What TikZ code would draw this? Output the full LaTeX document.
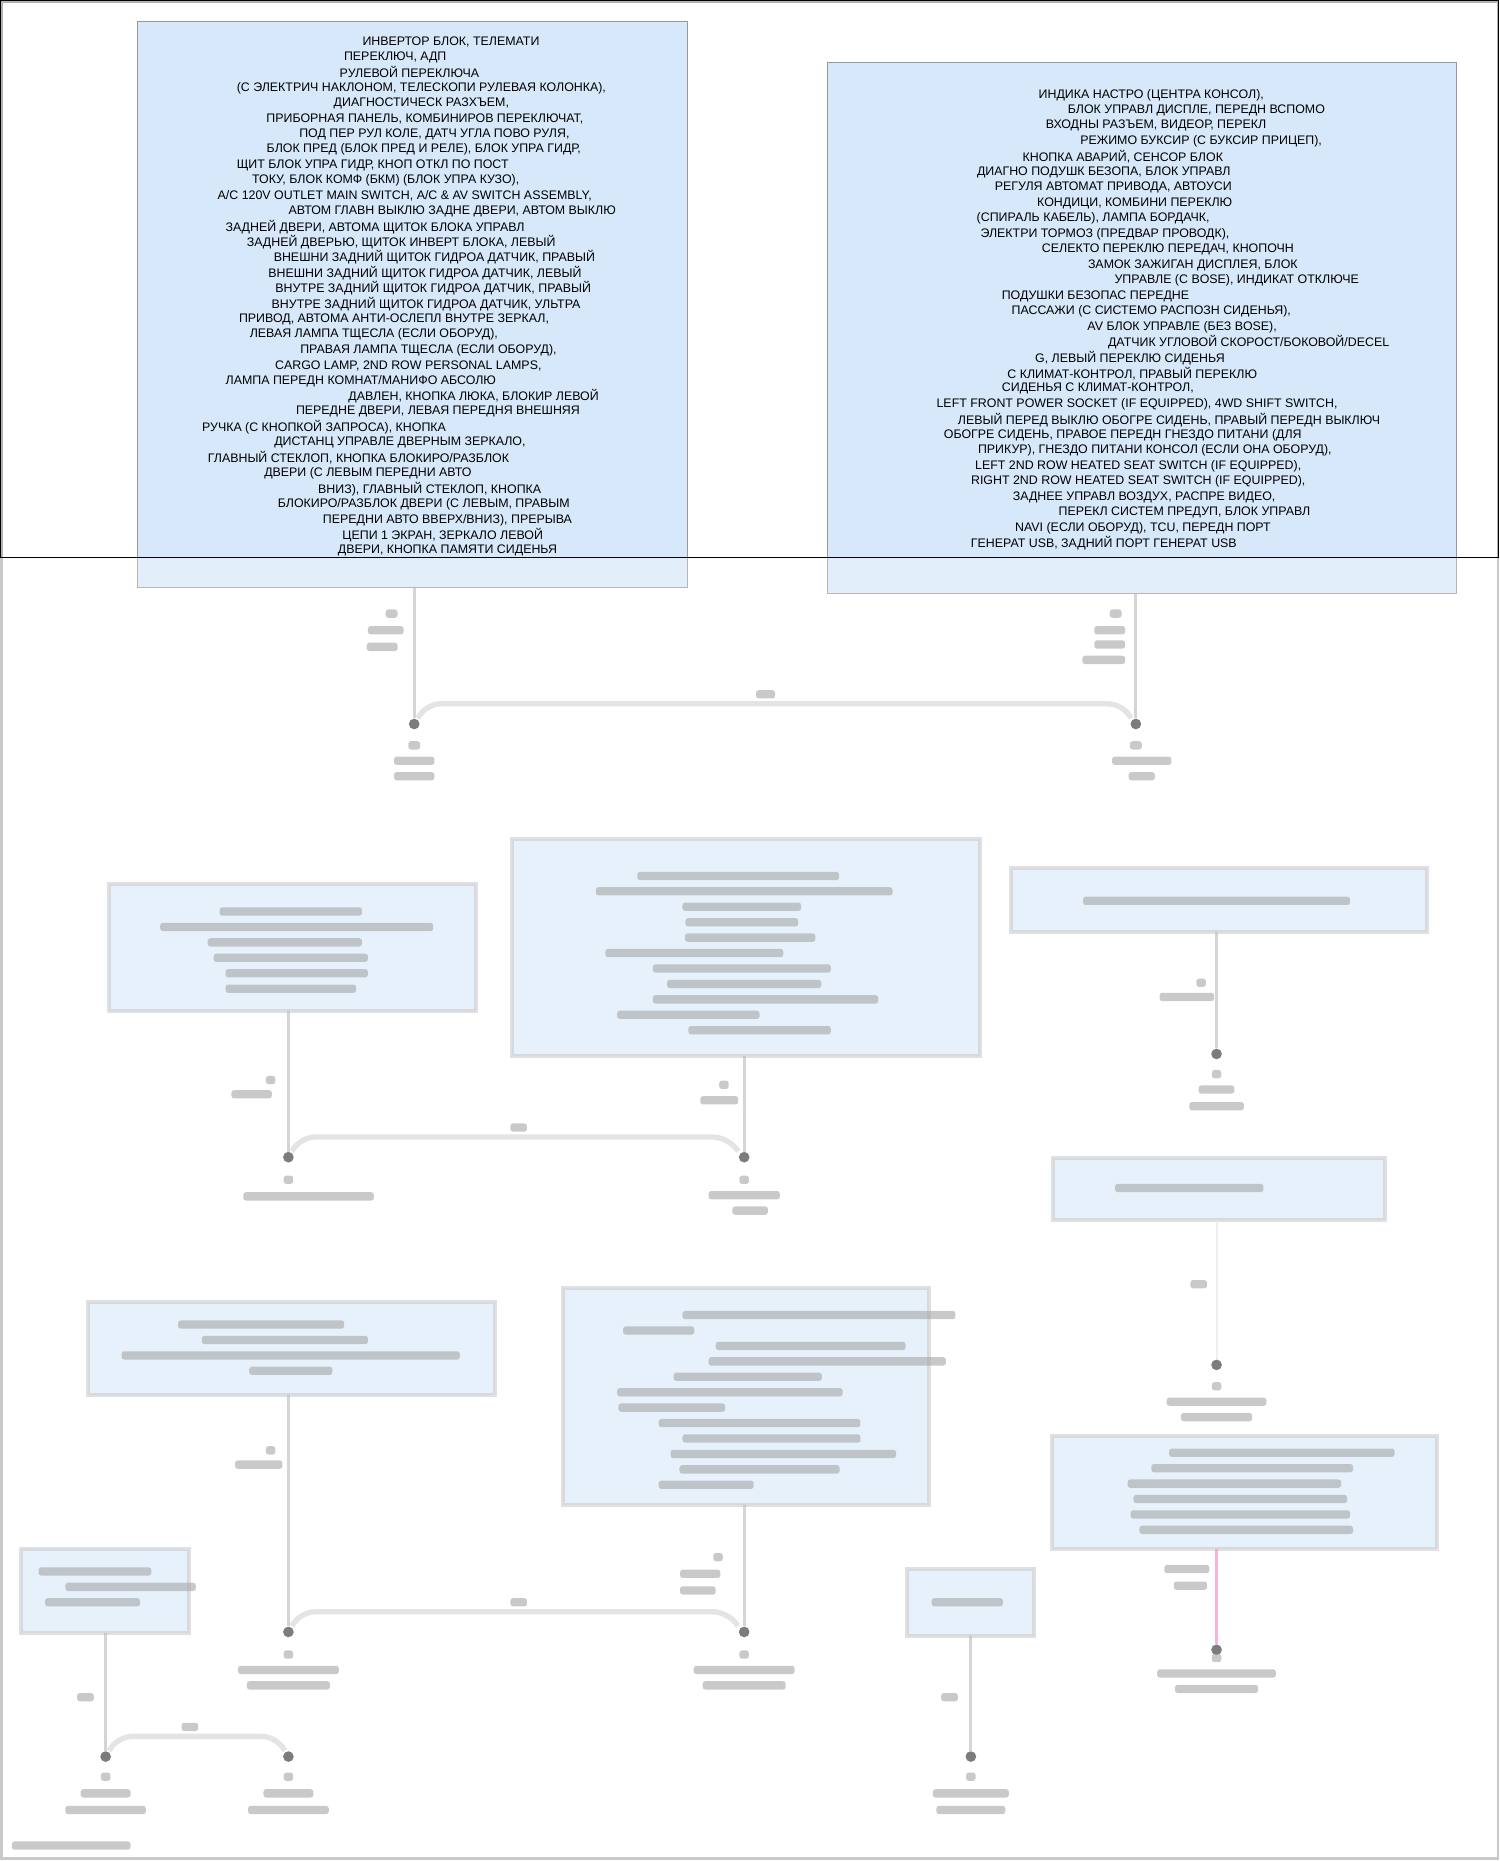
\documentclass[tikz,border=0pt]{standalone}
\usepackage{fontspec}
\setmainfont{Liberation Sans}
\definecolor{bfill}{HTML}{D6E8F9}
\begin{document}
\begin{tikzpicture}[x=0.8903pt,y=-0.8903pt,
  box/.style={draw=gray!80,fill=bfill,line width=0.8pt},
  bbox/.style={draw=gray!40,fill=bfill,line width=3pt},
  wire/.style={draw=gray!55,line width=2.2pt},
  bus/.style={draw=gray!35,line width=4pt,rounded corners=10pt},
  dot/.style={circle,fill=black!85,inner sep=0pt,minimum size=8pt},
  tl/.style={inner sep=0pt,font=\fontsize{9.3}{10}\selectfont,anchor=center}]
\useasboundingbox (0,0) rectangle (1263,1568);
\fill[white] (0,0) rectangle (1263,1568);
\draw[gray!60,line width=2pt] (1,1) rectangle (1262,1566);
\newcommand{\bl}[3]{\fill[gray!70,rounded corners=2pt] (#1,#2) ++(-#3/2,-3.5) rectangle ++(#3,7);}
% ===== top boxes =====
\draw[box] (116,18) rectangle (579,495);
\draw[box] (697,53) rectangle (1227,500);
\coordinate (b1) at (349,495);
\coordinate (b2) at (957,500);
\foreach \cx/\t [count=\i] in {
380/{ИНВЕРТОР БЛОК, ТЕЛЕМАТИ},
333/{ПЕРЕКЛЮЧ, АДП},
345/{РУЛЕВОЙ ПЕРЕКЛЮЧА},
355/{(С ЭЛЕКТРИЧ НАКЛОНОМ, ТЕЛЕСКОПИ РУЛЕВАЯ КОЛОНКА),},
355/{ДИАГНОСТИЧЕСК РАЗХЪЕМ,},
358/{ПРИБОРНАЯ ПАНЕЛЬ, КОМБИНИРОВ ПЕРЕКЛЮЧАТ,},
366/{ПОД ПЕР РУЛ КОЛЕ, ДАТЧ УГЛА ПОВО РУЛЯ,},
357/{БЛОК ПРЕД (БЛОК ПРЕД И РЕЛЕ), БЛОК УПРА ГИДР,},
314/{ЩИТ БЛОК УПРА ГИДР, КНОП ОТКЛ ПО ПОСТ},
325/{ТОКУ, БЛОК КОМФ (БКМ) (БЛОК УПРА КУЗО),},
341/{A/C 120V OUTLET MAIN SWITCH, A/C \& AV SWITCH ASSEMBLY,},
381/{АВТОМ ГЛАВН ВЫКЛЮ ЗАДНЕ ДВЕРИ, АВТОМ ВЫКЛЮ},
316/{ЗАДНЕЙ ДВЕРИ, АВТОМА ЩИТОК БЛОКА УПРАВЛ},
338/{ЗАДНЕЙ ДВЕРЬЮ, ЩИТОК ИНВЕРТ БЛОКА, ЛЕВЫЙ},
366/{ВНЕШНИ ЗАДНИЙ ЩИТОК ГИДРОА ДАТЧИК, ПРАВЫЙ},
358/{ВНЕШНИ ЗАДНИЙ ЩИТОК ГИДРОА ДАТЧИК, ЛЕВЫЙ},
365/{ВНУТРЕ ЗАДНИЙ ЩИТОК ГИДРОА ДАТЧИК, ПРАВЫЙ},
359/{ВНУТРЕ ЗАДНИЙ ЩИТОК ГИДРОА ДАТЧИК, УЛЬТРА},
332/{ПРИВОД, АВТОМА АНТИ-ОСЛЕПЛ ВНУТРЕ ЗЕРКАЛ,},
315/{ЛЕВАЯ ЛАМПА ТЩЕСЛА (ЕСЛИ ОБОРУД),},
361/{ПРАВАЯ ЛАМПА ТЩЕСЛА (ЕСЛИ ОБОРУД),},
344/{CARGO LAMP, 2ND ROW PERSONAL LAMPS,},
304/{ЛАМПА ПЕРЕДН КОМНАТ/МАНИФО АБСОЛЮ},
399/{ДАВЛЕН, КНОПКА ЛЮКА, БЛОКИР ЛЕВОЙ},
369/{ПЕРЕДНЕ ДВЕРИ, ЛЕВАЯ ПЕРЕДНЯ ВНЕШНЯЯ},
273/{РУЧКА (С КНОПКОЙ ЗАПРОСА), КНОПКА},
337/{ДИСТАНЦ УПРАВЛЕ ДВЕРНЫМ ЗЕРКАЛО,},
302/{ГЛАВНЫЙ СТЕКЛОП, КНОПКА БЛОКИРО/РАЗБЛОК},
310/{ДВЕРИ (С ЛЕВЫМ ПЕРЕДНИ АВТО},
362/{ВНИЗ), ГЛАВНЫЙ СТЕКЛОП, КНОПКА},
357/{БЛОКИРО/РАЗБЛОК ДВЕРИ (С ЛЕВЫМ, ПРАВЫМ},
377/{ПЕРЕДНИ АВТО ВВЕРХ/ВНИЗ), ПРЕРЫВА},
373/{ЦЕПИ 1 ЭКРАН, ЗЕРКАЛО ЛЕВОЙ},
377/{ДВЕРИ, КНОПКА ПАМЯТИ СИДЕНЬЯ}}
  {\node[tl] at (\cx,{35+13*(\i-1)}) {\t};}
\foreach \cx/\t [count=\i] in {
970/{ИНДИКА НАСТРО (ЦЕНТРА КОНСОЛ),},
1008/{БЛОК УПРАВЛ ДИСПЛЕ, ПЕРЕДН ВСПОМО},
974/{ВХОДНЫ РАЗЪЕМ, ВИДЕОР, ПЕРЕКЛ},
1012/{РЕЖИМО БУКСИР (С БУКСИР ПРИЦЕП),},
946/{КНОПКА АВАРИЙ, СЕНСОР БЛОК},
930/{ДИАГНО ПОДУШК БЕЗОПА, БЛОК УПРАВЛ},
938/{РЕГУЛЯ АВТОМАТ ПРИВОДА, АВТОУСИ},
956/{КОНДИЦИ, КОМБИНИ ПЕРЕКЛЮ},
921/{(СПИРАЛЬ КАБЕЛЬ), ЛАМПА БОРДАЧК,},
931/{ЭЛЕКТРИ ТОРМОЗ (ПРЕДВАР ПРОВОДК),},
984/{СЕЛЕКТО ПЕРЕКЛЮ ПЕРЕДАЧ, КНОПОЧН},
1005/{ЗАМОК ЗАЖИГАН ДИСПЛЕЯ, БЛОК},
1042/{УПРАВЛЕ (С BOSE), ИНДИКАТ ОТКЛЮЧЕ},
923/{ПОДУШКИ БЕЗОПАС ПЕРЕДНЕ},
970/{ПАССАЖИ (С СИСТЕМО РАСПОЗН СИДЕНЬЯ),},
996/{AV БЛОК УПРАВЛЕ (БЕЗ BOSE),},
1052/{ДАТЧИК УГЛОВОЙ СКОРОСТ/БОКОВОЙ/DECEL},
952/{G, ЛЕВЫЙ ПЕРЕКЛЮ СИДЕНЬЯ},
954/{С КЛИМАТ-КОНТРОЛ, ПРАВЫЙ ПЕРЕКЛЮ},
925/{СИДЕНЬЯ С КЛИМАТ-КОНТРОЛ,},
958/{LEFT FRONT POWER SOCKET (IF EQUIPPED), 4WD SHIFT SWITCH,},
985/{ЛЕВЫЙ ПЕРЕД ВЫКЛЮ ОБОГРЕ СИДЕНЬ, ПРАВЫЙ ПЕРЕДН ВЫКЛЮЧ},
946/{ОБОГРЕ СИДЕНЬ, ПРАВОЕ ПЕРЕДН ГНЕЗДО ПИТАНИ (ДЛЯ},
973/{ПРИКУР), ГНЕЗДО ПИТАНИ КОНСОЛ (ЕСЛИ ОНА ОБОРУД),},
959/{LEFT 2ND ROW HEATED SEAT SWITCH (IF EQUIPPED),},
959/{RIGHT 2ND ROW HEATED SEAT SWITCH (IF EQUIPPED),},
964/{ЗАДНЕЕ УПРАВЛ ВОЗДУХ, РАСПРЕ ВИДЕО,},
998/{ПЕРЕКЛ СИСТЕМ ПРЕДУП, БЛОК УПРАВЛ},
963/{NAVI (ЕСЛИ ОБОРУД), TCU, ПЕРЕДН ПОРТ},
930/{ГЕНЕРАТ USB, ЗАДНИЙ ПОРТ ГЕНЕРАТ USB}}
  {\node[tl] at (\cx,{80+13.03*(\i-1)}) {\t};}
% blur over lower part of top boxes
\fill[white,opacity=0.3] (0,470) rectangle (1263,1568);
\draw[black,line width=0.8pt] (0.4,0.4) rectangle (1262.6,470);
% ===== lower (blurred) part =====
\begin{scope}[opacity=0.6]
\node[dot] (d1) at (349,610) {};
\node[dot] (d2) at (957,610) {};
\draw[wire] (b1) -- (d1);
\draw[wire] (b2) -- (d2);
\draw[bus] (352,605) -- (360,593) -- (945,593) -- (953,605);
\bl{645}{585}{16}
\bl{330}{517}{10}\bl{325}{531}{30}\bl{322}{545}{26}
\bl{940}{517}{10}\bl{935}{531}{26}\bl{935}{543}{26}\bl{930}{556}{36}
\bl{349}{628}{10}\bl{349}{641}{34}\bl{349}{654}{34}
\bl{957}{628}{10}\bl{962}{641}{50}\bl{962}{654}{22}
% row 2
\draw[bbox] (92,745) rectangle (401,852);   \coordinate (bA) at (243,852);
\draw[bbox] (431,707) rectangle (826,890);  \coordinate (bB) at (627,890);
\draw[bbox] (852,731) rectangle (1202,785); \coordinate (bC) at (1025,785);
\foreach \w/\c [count=\i] in {120/245,230/250,130/240,130/245,120/250,110/245}
  {\bl{\c}{{768+13*(\i-1)}}{\w}}
\foreach \w/\c [count=\i] in {170/622,250/627,100/625,95/625,110/632,150/585,150/625,130/627,190/645,120/580,120/640}
  {\bl{\c}{{738+13*(\i-1)}}{\w}}
\bl{1025}{759}{225}
\node[dot] (dA) at (243,975) {};
\node[dot] (dB) at (627,975) {};
\node[dot] (dC) at (1025,888) {};
\draw[wire] (bA) -- (dA);
\draw[wire] (bB) -- (dB);
\draw[wire] (bC) -- (dC);
\draw[bus] (246,970) -- (254,958) -- (612,958) -- (622,970);
\bl{437}{950}{14}
\bl{228}{910}{8}\bl{212}{922}{34}
\bl{610}{914}{8}\bl{606}{927}{32}
\bl{1012}{828}{8}\bl{1000}{840}{46}
\bl{243}{994}{8}\bl{260}{1008}{110}
\bl{627}{994}{8}\bl{627}{1007}{60}\bl{632}{1020}{30}
\bl{1025}{905}{8}\bl{1025}{918}{30}\bl{1025}{932}{46}
% right column
\draw[bbox] (887,976) rectangle (1167,1028); \coordinate (bD) at (1025,1028);
\bl{1002}{1001}{125}
\node[dot] (dD) at (1025,1150) {};
\draw[draw=gray!20,line width=1.5pt] (bD) -- (dD);
\bl{1010}{1082}{14}
\bl{1025}{1168}{8}\bl{1025}{1181}{84}\bl{1025}{1194}{60}
\draw[bbox] (886,1210) rectangle (1211,1305); \coordinate (bE) at (1025,1305);
\foreach \w/\c [count=\i] in {190/1080,170/1055,180/1040,180/1045,185/1045,180/1050}
  {\bl{\c}{{1224+13*(\i-1)}}{\w}}
\node[dot] (dE) at (1025,1390) {};
\draw[draw=magenta!50,line width=2pt] (bE) -- (dE);
\bl{1000}{1322}{38}\bl{1003}{1336}{28}
\bl{1025}{1397}{8}\bl{1025}{1410}{100}\bl{1025}{1423}{70}
% row 3
\draw[bbox] (74,1097) rectangle (417,1175); \coordinate (bF) at (243,1175);
\foreach \w/\c [count=\i] in {140/220,140/240,285/245,70/245}
  {\bl{\c}{{1116+13*(\i-1)}}{\w}}
\draw[bbox] (474,1085) rectangle (783,1268); \coordinate (bG) at (627,1268);
\foreach \w/\c [count=\i] in {230/690,60/555,160/683,200/697,125/630,190/615,90/566,170/640,150/650,190/660,135/640,80/595}
  {\bl{\c}{{1108+13*(\i-1)}}{\w}}
\node[dot] (dF) at (243,1375) {};
\node[dot] (dG) at (627,1375) {};
\draw[wire] (bF) -- (dF);
\draw[wire] (bG) -- (dG);
\draw[bus] (246,1370) -- (254,1358) -- (612,1358) -- (622,1370);
\bl{437}{1350}{14}
\bl{228}{1222}{8}\bl{218}{1234}{40}
\bl{605}{1312}{8}\bl{590}{1326}{34}\bl{588}{1340}{30}
\bl{243}{1394}{8}\bl{243}{1407}{85}\bl{243}{1420}{70}
\bl{627}{1394}{8}\bl{627}{1407}{85}\bl{627}{1420}{70}
\draw[bbox] (18,1305) rectangle (159,1376); \coordinate (bH) at (89,1376);
\bl{80}{1324}{95}\bl{110}{1337}{110}\bl{78}{1350}{80}
\draw[bbox] (764,1322) rectangle (871,1378); \coordinate (bI) at (818,1378);
\bl{815}{1350}{60}
\node[dot] (dH1) at (89,1480) {};
\node[dot] (dH2) at (243,1480) {};
\node[dot] (dI) at (818,1480) {};
\draw[wire] (bH) -- (dH1);
\draw[wire] (bI) -- (dI);
\draw[bus] (92,1475) -- (100,1463) -- (232,1463) -- (240,1475);
\bl{160}{1455}{14}\bl{72}{1430}{14}\bl{800}{1430}{14}
\bl{89}{1497}{8}\bl{89}{1511}{42}\bl{89}{1525}{68}
\bl{243}{1497}{8}\bl{243}{1511}{42}\bl{243}{1525}{68}
\bl{818}{1497}{8}\bl{818}{1511}{64}\bl{818}{1525}{58}
\bl{60}{1555}{100}
\end{scope}
\end{tikzpicture}
\end{document}
